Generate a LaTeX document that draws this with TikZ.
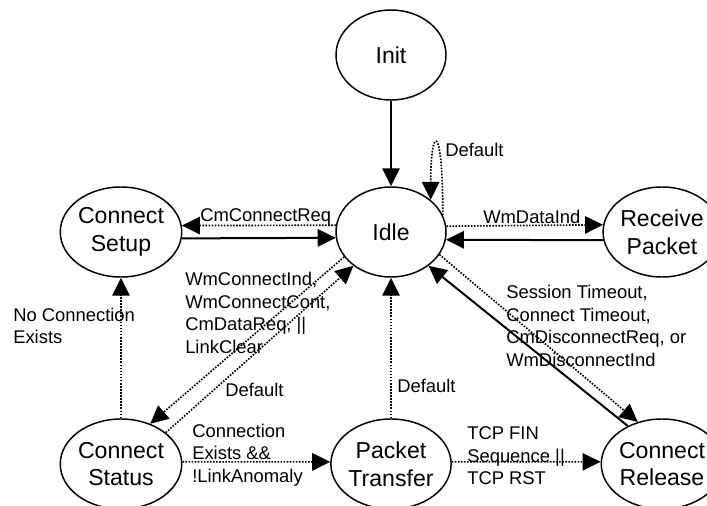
\documentclass[tikz,border=0pt]{standalone}
\usepackage{fontspec}
\setmainfont{Liberation Sans}
\usetikzlibrary{arrows.meta,shapes.geometric}

\begin{document}
\begin{tikzpicture}[x=0.75pt,y=-0.75pt,
  state/.style={ellipse, draw, line width=1.1pt, minimum width=82.5pt,
    minimum height=67.5pt, inner sep=0pt, align=center,
    font=\fontsize{17.3}{20.8}\selectfont},
  lbl/.style={anchor=west, align=left, inner sep=0pt,
    font=\fontsize{13.8}{16.9}\selectfont},
  tip/.style={-{Triangle[length=13.5pt,width=13pt]}},
  solidarrow/.style={tip, line width=1.5pt},
  dotarrow/.style={tip, line width=1.25pt, dash pattern=on 1.2pt off 1.1pt},
]
\useasboundingbox (0,0) rectangle (707,506);

% states
\node[state] (Init)    at (391,55)  {Init};
\node[state] (Idle)    at (391,232) {Idle};
\node[state] (Setup)   at (121,232) {Connect\\Setup};
\node[state] (Recv)    at (662,232) {Receive\\Packet};
\node[state] (Status)  at (121,464) {Connect\\Status};
\node[state] (Packet)  at (391,464) {Packet\\Transfer};
\node[state] (Release) at (662,464) {Connect\\Release};

% transitions
\draw[solidarrow] (Init.south) -- (Idle.north);
\draw[dotarrow] (Idle.18) .. controls +(0,-95) and +(0,-75) .. (Idle.39);

\draw[dotarrow]   (Idle.173.7) -- (Setup.6.3);
\draw[solidarrow] (Setup.-6.3) -- (Idle.186.3);
\draw[dotarrow]   (Idle.6.3) -- (Recv.173.7);
\draw[solidarrow] (Recv.188.4) -- (Idle.-8.4);

\draw[dotarrow] (Status.north) -- (Setup.south);
\draw[dotarrow] (Idle.208.4) -- (Status.54.2);
\draw[dotarrow] (Status.35.2) -- (Idle.222.7);
\draw[dotarrow] (Packet.north) -- (Idle.south);

\draw[dotarrow]   (Idle.-25) -- (Release.120);
\draw[solidarrow] (Release.132) -- (Idle.-42);

\draw[dotarrow] (Status.2) -- (Packet.178);
\draw[dotarrow] (Packet.2) -- (Release.178);

% transition labels
\node[lbl] (lsetup)  at (200,217) {CmConnectReq};
\node[lbl] (ldata)   at (483,217) {WmDataInd};
\node[lbl] (lloop)   at (445,150) {Default};
\node[lbl] (lnoconn) at (13,326)  {No Connection\\Exists};
\node[lbl] (lwm)     at (185,313) {WmConnectInd,\\WmConnectCont,\\CmDataReq, ||\\LinkClear};
\node[lbl] (ldef1)   at (225,390) {Default};
\node[lbl] (ldef2)   at (397,386) {Default};
\node[lbl] (lsess)   at (506,326) {Session Timeout,\\Connect Timeout,\\CmDisconnectReq, or\\WmDisconnectInd};
\node[lbl] (lconn)   at (192,455) {Connection\\Exists \&\&\\!LinkAnomaly};
\node[lbl] (ltcp)    at (467,456) {TCP FIN\\Sequence ||\\TCP RST};
\end{tikzpicture}
\end{document}
